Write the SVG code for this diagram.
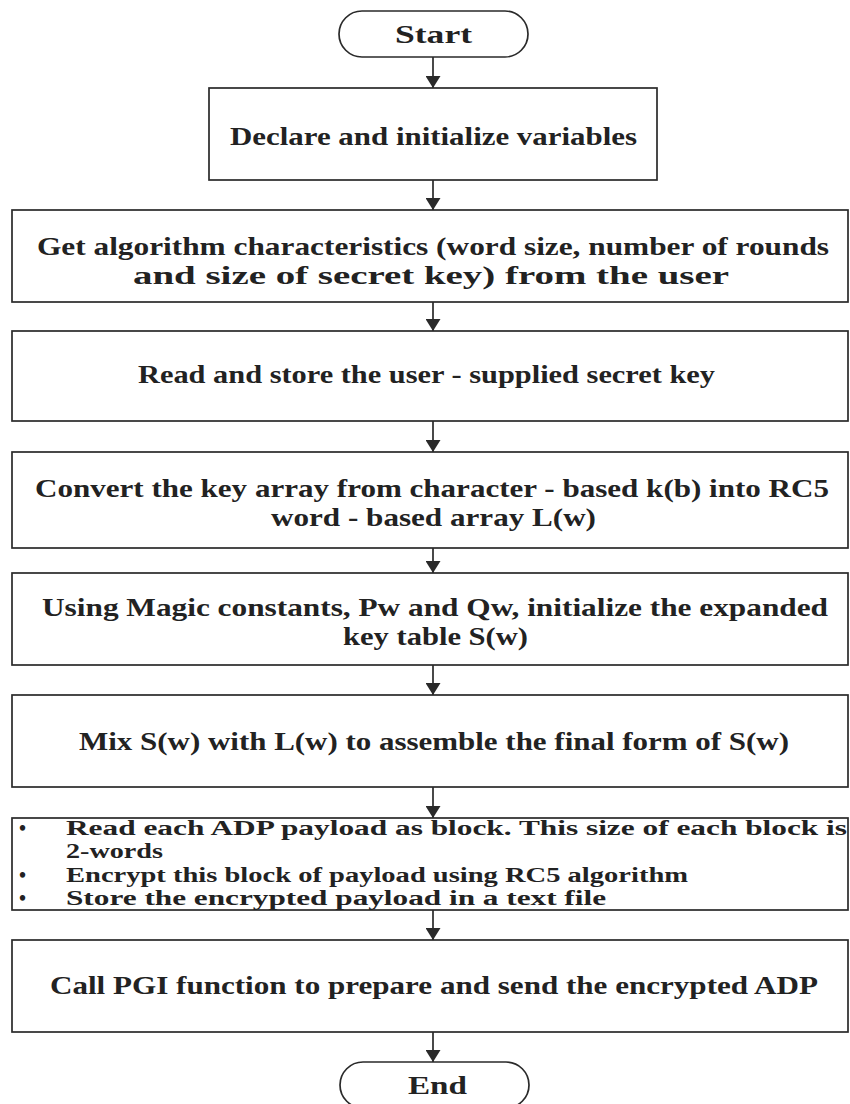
<svg xmlns="http://www.w3.org/2000/svg" width="850" height="1104" viewBox="0 0 850 1104">
  <style>
    .box { fill: #ffffff; stroke: #2a2a2a; stroke-width: 1.7; }
    .term { fill: #ffffff; stroke: #2a2a2a; stroke-width: 1.7; }
    .lbl { font-family: "Liberation Serif", "Times New Roman", serif; font-weight: bold; font-size: 25px; fill: #222; }
    .tight { font-size: 20px; }
    .conn { stroke: #2a2a2a; stroke-width: 1.7; fill: none; marker-end: url(#arrow); }
  </style>
  <defs>
    <marker id="arrow" viewBox="0 0 12 15" refX="12" refY="7.5" markerWidth="12" markerHeight="15" markerUnits="userSpaceOnUse" orient="auto">
      <path d="M0,0 L12,7.5 L0,15 Z" fill="#2a2a2a"/>
    </marker>
  </defs>
  <rect width="850" height="1104" fill="#ffffff"/>

  <g id="connectors">
    <line class="conn" x1="433" y1="57" x2="433" y2="88"/>
    <line class="conn" x1="433" y1="180" x2="433" y2="210"/>
    <line class="conn" x1="433" y1="302" x2="433" y2="331"/>
    <line class="conn" x1="433" y1="421" x2="433" y2="452"/>
    <line class="conn" x1="433" y1="548" x2="433" y2="573"/>
    <line class="conn" x1="433" y1="665" x2="433" y2="695"/>
    <line class="conn" x1="433" y1="787" x2="433" y2="818"/>
    <line class="conn" x1="433" y1="910" x2="433" y2="940"/>
    <line class="conn" x1="433" y1="1032" x2="433" y2="1062"/>
  </g>

  <g id="start">
    <rect class="term" x="339" y="11" width="189" height="46" rx="23"/>
    <text class="lbl" x="395" y="43" textLength="77" lengthAdjust="spacingAndGlyphs">Start</text>
  </g>

  <g id="declare">
    <rect class="box" x="209" y="88" width="448" height="92"/>
    <text class="lbl" x="230" y="145" textLength="407" lengthAdjust="spacingAndGlyphs">Declare and initialize variables</text>
  </g>

  <g id="characteristics">
    <rect class="box" x="12" y="210" width="836" height="92"/>
    <text class="lbl" x="37" y="255" textLength="792" lengthAdjust="spacingAndGlyphs">Get algorithm characteristics (word size, number of rounds</text>
    <text class="lbl" x="133" y="284" textLength="596" lengthAdjust="spacingAndGlyphs">and size of secret key) from the user</text>
  </g>

  <g id="read-key">
    <rect class="box" x="12" y="331" width="836" height="90"/>
    <text class="lbl" x="138" y="383" textLength="577" lengthAdjust="spacingAndGlyphs">Read and store the user - supplied secret key</text>
  </g>

  <g id="convert">
    <rect class="box" x="12" y="452" width="836" height="96"/>
    <text class="lbl" x="35" y="497" textLength="794" lengthAdjust="spacingAndGlyphs">Convert the key array from character - based k(b) into RC5</text>
    <text class="lbl" x="271" y="526" textLength="325" lengthAdjust="spacingAndGlyphs">word - based array L(w)</text>
  </g>

  <g id="init-table">
    <rect class="box" x="12" y="573" width="836" height="92"/>
    <text class="lbl" x="42" y="616" textLength="786" lengthAdjust="spacingAndGlyphs">Using Magic constants, Pw and Qw, initialize the expanded</text>
    <text class="lbl" x="343" y="645" textLength="185" lengthAdjust="spacingAndGlyphs">key table S(w)</text>
  </g>

  <g id="mix">
    <rect class="box" x="12" y="695" width="836" height="92"/>
    <text class="lbl" x="79" y="750" textLength="710" lengthAdjust="spacingAndGlyphs">Mix S(w) with L(w) to assemble the final form of S(w)</text>
  </g>

  <g id="encrypt">
    <rect class="box" x="12" y="818" width="836" height="92"/>
    <text class="lbl tight" x="19" y="835">•</text>
    <text class="lbl tight" x="66" y="835" textLength="781" lengthAdjust="spacingAndGlyphs">Read each ADP payload as block. This size of each block is</text>
    <text class="lbl tight" x="66" y="858" textLength="97" lengthAdjust="spacingAndGlyphs">2-words</text>
    <text class="lbl tight" x="19" y="882">•</text>
    <text class="lbl tight" x="66" y="882" textLength="622" lengthAdjust="spacingAndGlyphs">Encrypt this block of payload using RC5 algorithm</text>
    <text class="lbl tight" x="19" y="905">•</text>
    <text class="lbl tight" x="66" y="905" textLength="540" lengthAdjust="spacingAndGlyphs">Store the encrypted payload in a text file</text>
  </g>

  <g id="send">
    <rect class="box" x="12" y="940" width="836" height="92"/>
    <text class="lbl" x="50" y="994" textLength="768" lengthAdjust="spacingAndGlyphs">Call PGI function to prepare and send the encrypted ADP</text>
  </g>

  <g id="end">
    <rect class="term" x="340" y="1062" width="189" height="46" rx="23"/>
    <text class="lbl" x="408" y="1094" textLength="59" lengthAdjust="spacingAndGlyphs">End</text>
  </g>
</svg>
